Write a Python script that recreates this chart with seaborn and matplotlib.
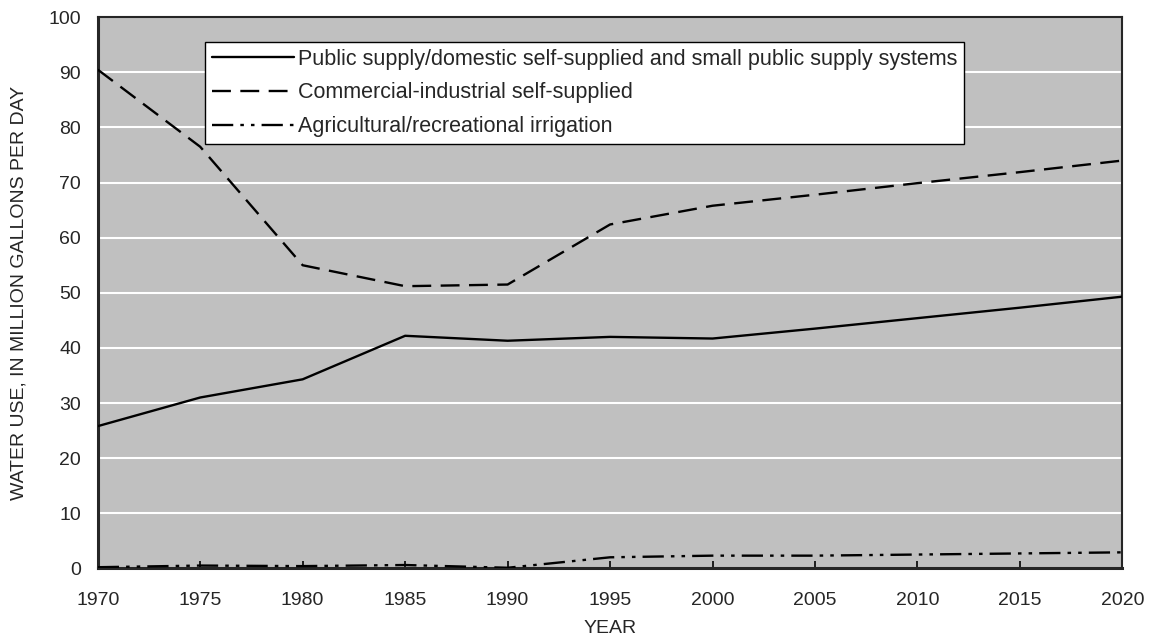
import matplotlib
matplotlib.use("Agg")
import matplotlib.pyplot as plt
import seaborn as sns
import pandas as pd

# Water use, in million gallons per day
years = [1970, 1975, 1980, 1985, 1990, 1995, 2000, 2005, 2010, 2015, 2020]
public_supply = [25.8, 31.0, 34.3, 42.2, 41.3, 42.0, 41.7, 43.5, 45.4, 47.3, 49.3]
commercial = [90.5, 76.5, 55.0, 51.2, 51.5, 62.4, 65.8, 67.8, 69.9, 71.9, 74.0]
agricultural = [0.2, 0.5, 0.4, 0.6, 0.1, 2.0, 2.3, 2.3, 2.5, 2.7, 2.9]

labels = [
    "Public supply/domestic self-supplied and small public supply systems",
    "Commercial-industrial self-supplied",
    "Agricultural/recreational irrigation",
]
dash_styles = [(None, None), (8, 4), (9, 3, 1.5, 3, 1.5, 3)]

df = pd.DataFrame({"year": years, labels[0]: public_supply,
                   labels[1]: commercial, labels[2]: agricultural})
long_df = df.melt(id_vars="year", var_name="series", value_name="value")

sns.set_style("ticks")
plt.rcParams["font.family"] = ["Liberation Sans", "DejaVu Sans"]

fig, ax = plt.subplots(figsize=(11.5, 6.4), dpi=100)
fig.subplots_adjust(left=0.085, right=0.976, top=0.973, bottom=0.112)

ax.set_facecolor("#c0c0c0")
for y in range(10, 100, 10):
    ax.axhline(y, color="white", lw=1.5, zorder=1)

for lab, ds in zip(labels, dash_styles):
    sub = long_df[long_df["series"] == lab]
    sns.lineplot(data=sub, x="year", y="value", ax=ax, color="black",
                 lw=1.7, label=lab, zorder=3)
    ln = ax.get_lines()[-1]
    if ds[0] is not None:
        ln.set_dashes(ds)

ax.set_xlim(1970, 2020)
ax.set_ylim(0, 100)
ax.set_xticks(range(1970, 2021, 5))
ax.set_yticks(range(0, 101, 10))
ax.tick_params(direction="in", length=5, width=1.2, labelsize=14, color="black")
ax.tick_params(axis="x", pad=17)
ax.tick_params(axis="y", pad=12)
ax.set_xlabel("YEAR", fontsize=14, labelpad=8)
ax.set_ylabel("WATER USE, IN MILLION GALLONS PER DAY", fontsize=14, labelpad=15)

for side in ["left", "bottom"]:
    ax.spines[side].set_linewidth(2.2)
for side in ["top", "right"]:
    ax.spines[side].set_linewidth(1.5)
    ax.spines[side].set_visible(True)

leg = ax.legend(loc="upper left", bbox_to_anchor=(0.105, 0.955), fontsize=15.5,
                frameon=True, fancybox=False, edgecolor="black", framealpha=1,
                handlelength=3.8, handletextpad=0.2, labelspacing=0.6,
                borderpad=0.3, borderaxespad=0)
leg.get_frame().set_linewidth(1.0)

fig.savefig("out.png", dpi=100)
